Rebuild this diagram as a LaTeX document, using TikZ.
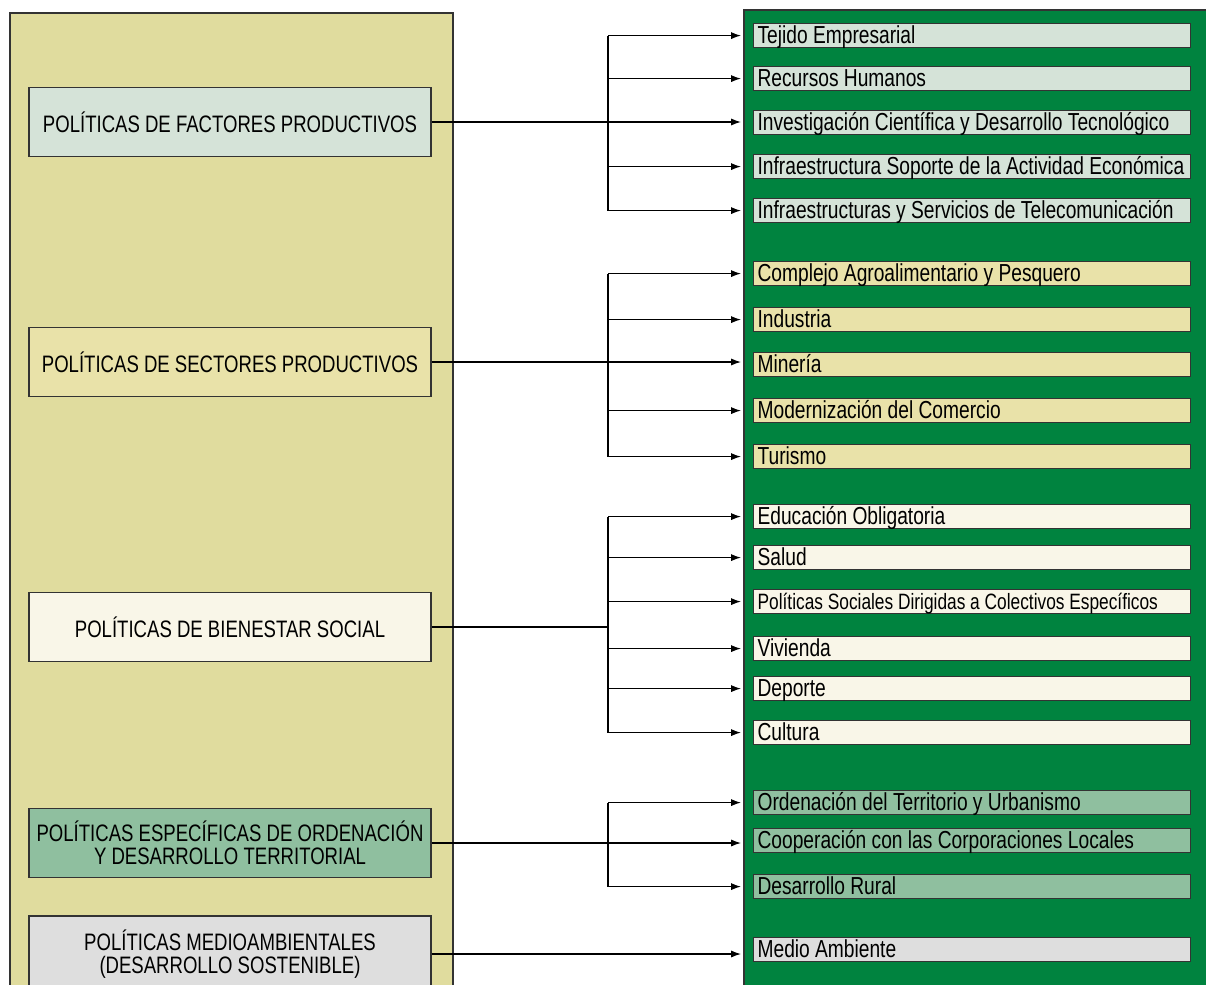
\documentclass[tikz,border=0pt]{standalone}
\usepackage{fontspec}
\setmainfont[FakeStretch=0.78]{Liberation Sans}
\usetikzlibrary{positioning}
\usetikzlibrary{arrows.meta}
\usetikzlibrary{calc}

\definecolor{panelkhaki}{HTML}{E0DC9E}
\definecolor{panelgreen}{HTML}{00833F}
\definecolor{boxline}{HTML}{333333}
\definecolor{grpfactor}{HTML}{D5E3D8}
\definecolor{grpsector}{HTML}{E9E2A9}
\definecolor{grpsocial}{HTML}{F9F6E8}
\definecolor{grpterr}{HTML}{8FBF9F}
\definecolor{grpmedio}{HTML}{DEDEDE}

\begin{document}
\begin{tikzpicture}[x=0.5pt,y=-0.5pt,
    polbox/.style={draw=boxline, line width=0.7pt, minimum width=201pt, minimum height=34.5pt,
        align=center, inner sep=1pt, font=\fontsize{11.9}{11.5}\selectfont},
    itembox/.style={draw=boxline, line width=0.6pt, anchor=north west, text width=214.5pt,
        inner xsep=2pt, inner ysep=0pt, text height=10pt, text depth=2pt, align=flush left,
        font=\fontsize{12.3}{12}\selectfont},
    itemsmall/.style={itembox, font=\fontsize{11.1}{12}\selectfont},
    conn/.style={draw=black, line width=0.6pt},
    arr/.style={conn, -{Latex[length=5pt,width=3.6pt]}, shorten >=6pt}]
		% Define the frame
		\useasboundingbox (0,0) rectangle (1206,985);
		\clip (0,0) rectangle (1206,985);
		\coordinate (bus) at (608,0);

        % Draw the two panels
		\draw[fill=panelkhaki, draw=boxline, line width=0.7pt] (10,13) rectangle (453,1000);
		\draw[fill=panelgreen, draw=boxline, line width=0.7pt] (744,10) rectangle (1215,1000);

        % Policy boxes on the left
		\node[polbox, fill=grpfactor] (fp) at (230,122) {POLÍTICAS DE FACTORES PRODUCTIVOS};
		\node[polbox, fill=grpsector] (sp) at (230,362) {POLÍTICAS DE SECTORES PRODUCTIVOS};
		\node[polbox, fill=grpsocial] (bs) at (230,627) {POLÍTICAS DE BIENESTAR SOCIAL};
		\node[polbox, fill=grpterr] (ot) at (230,843) {POLÍTICAS ESPECÍFICAS DE ORDENACIÓN\\Y DESARROLLO TERRITORIAL};
		\node[polbox, fill=grpmedio, minimum height=38pt] (ma) at (230,954) {POLÍTICAS MEDIOAMBIENTALES\\(DESARROLLO SOSTENIBLE)};

        % Items on the right
        \foreach \name/\top/\txt in {f1/23/Tejido Empresarial, f2/66/Recursos Humanos,
            f3/110/Investigación Científica y Desarrollo Tecnológico,
            f4/154/Infraestructura Soporte de la Actividad Económica,
            f5/198/Infraestructuras y Servicios de Telecomunicación}
        \node[itembox, fill=grpfactor] (\name) at (753,\top) {\mbox{\txt}};

        \foreach \name/\top/\txt in {s1/261/Complejo Agroalimentario y Pesquero, s2/307/Industria,
            s3/352/Minería, s4/398/Modernización del Comercio, s5/444/Turismo}
        \node[itembox, fill=grpsector] (\name) at (753,\top) {\mbox{\txt}};

        \foreach \name/\top/\txt in {b1/504/Educación Obligatoria, b2/545/Salud,
            b4/636/Vivienda, b5/676/Deporte, b6/720/Cultura}
        \node[itembox, fill=grpsocial] (\name) at (753,\top) {\mbox{\txt}};
        \node[itemsmall, fill=grpsocial] (b3) at (753,589) {\mbox{Políticas Sociales Dirigidas a Colectivos Específicos}};

        \foreach \name/\top/\txt in {t1/790/Ordenación del Territorio y Urbanismo,
            t2/828/Cooperación con las Corporaciones Locales, t3/874/Desarrollo Rural}
        \node[itembox, fill=grpterr] (\name) at (753,\top) {\mbox{\txt}};

        \node[itembox, fill=grpmedio] (m1) at (753,937) {Medio Ambiente};

        % Draw the connectors
        \draw[conn] (f1.west -| bus) -- (f5.west -| bus);
        \draw[conn] (s1.west -| bus) -- (s5.west -| bus);
        \draw[conn] (b1.west -| bus) -- (b6.west -| bus);
        \draw[conn] (t1.west -| bus) -- (t3.west -| bus);

        \foreach \name in {f1,f2,f4,f5,s1,s2,s4,s5,b1,b2,b3,b4,b5,b6,t1,t3}
        \draw[arr] (\name.west -| bus) -- (\name.west);

        \draw[arr] (fp.east) -- (fp.east -| f3.west);
        \draw[arr] (sp.east) -- (sp.east -| s3.west);
        \draw[conn] (bs.east) -- (bs.east -| bus);
        \draw[arr] (ot.east) -- (ot.east -| t2.west);
        \draw[arr] (ma.east) -- (ma.east -| m1.west);
     \end{tikzpicture}
\end{document}
